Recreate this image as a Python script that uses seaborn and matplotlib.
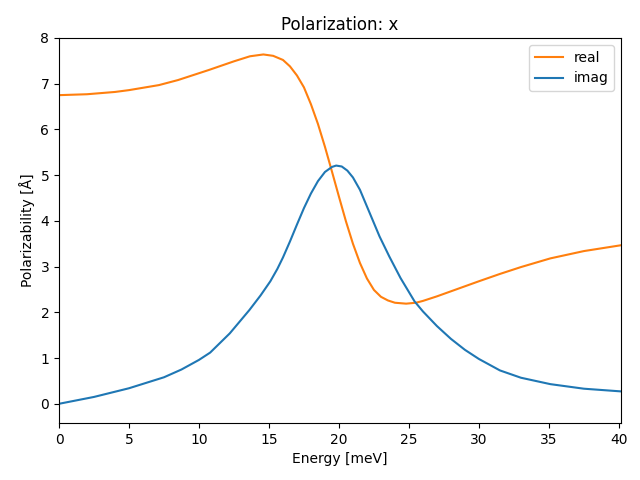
import matplotlib
matplotlib.use("Agg")
import matplotlib.pyplot as plt
import seaborn as sns
import pandas as pd

energy_real = [0, 2, 4, 5, 7.14, 8.5, 10.7, 12.5, 13.64, 14.6, 15.3, 16.0, 16.5, 17.0, 17.5,
               18.0, 18.5, 19.0, 19.5, 20.0, 20.5, 21.0, 21.5, 22.0, 22.5, 23.0, 23.5, 24.0,
               24.8, 25.5, 26.0, 27.0, 28.0, 29.0, 30.0, 31.5, 33.0, 35.1, 37.5, 40.2]
real = [6.75, 6.77, 6.82, 6.86, 6.97, 7.08, 7.30, 7.49, 7.60, 7.64, 7.61, 7.52, 7.38, 7.18, 6.92,
        6.55, 6.12, 5.62, 5.08, 4.53, 3.99, 3.50, 3.08, 2.74, 2.49, 2.34, 2.26, 2.21,
        2.19, 2.21, 2.25, 2.35, 2.46, 2.57, 2.68, 2.84, 2.99, 3.18, 3.34, 3.47]

energy_imag = [0, 2.5, 5, 7.5, 8.75, 10, 10.8, 12.2, 13.6, 14.4, 15.1, 15.6, 16.0, 16.5, 17.0,
               17.5, 18.0, 18.5, 19.0, 19.5, 19.8, 20.2, 20.6, 21.0, 21.5, 22.2, 22.9, 23.6,
               24.4, 25.4, 26.0, 27.0, 28.0, 29.0, 30.0, 31.5, 33.0, 35.1, 37.5, 40.2]
imag = [0.0, 0.15, 0.34, 0.58, 0.75, 0.96, 1.12, 1.54, 2.05, 2.37, 2.68, 2.95, 3.20, 3.55, 3.92,
        4.28, 4.60, 4.87, 5.07, 5.18, 5.21, 5.19, 5.10, 4.95, 4.68, 4.17, 3.66, 3.22,
        2.75, 2.24, 2.02, 1.70, 1.42, 1.18, 0.98, 0.73, 0.57, 0.43, 0.33, 0.27]

df_real = pd.DataFrame({"energy": energy_real, "value": real})
df_imag = pd.DataFrame({"energy": energy_imag, "value": imag})

fig, ax = plt.subplots(figsize=(6.4, 4.8), dpi=100)
sns.lineplot(data=df_real, x="energy", y="value", color="#ff7f0e", label="real", ax=ax)
sns.lineplot(data=df_imag, x="energy", y="value", color="#1f77b4", label="imag", ax=ax)
ax.set_xlim(0, 40.15)
ax.set_ylim(-0.42, 8)
ax.set_xlabel("Energy [meV]")
ax.set_ylabel("Polarizability [Å]")
ax.set_title("Polarization: x")
ax.legend(loc="upper right")
fig.subplots_adjust(left=59/640, right=621/640, top=1-38/480, bottom=1-423/480)
fig.savefig("out.png", dpi=100)
